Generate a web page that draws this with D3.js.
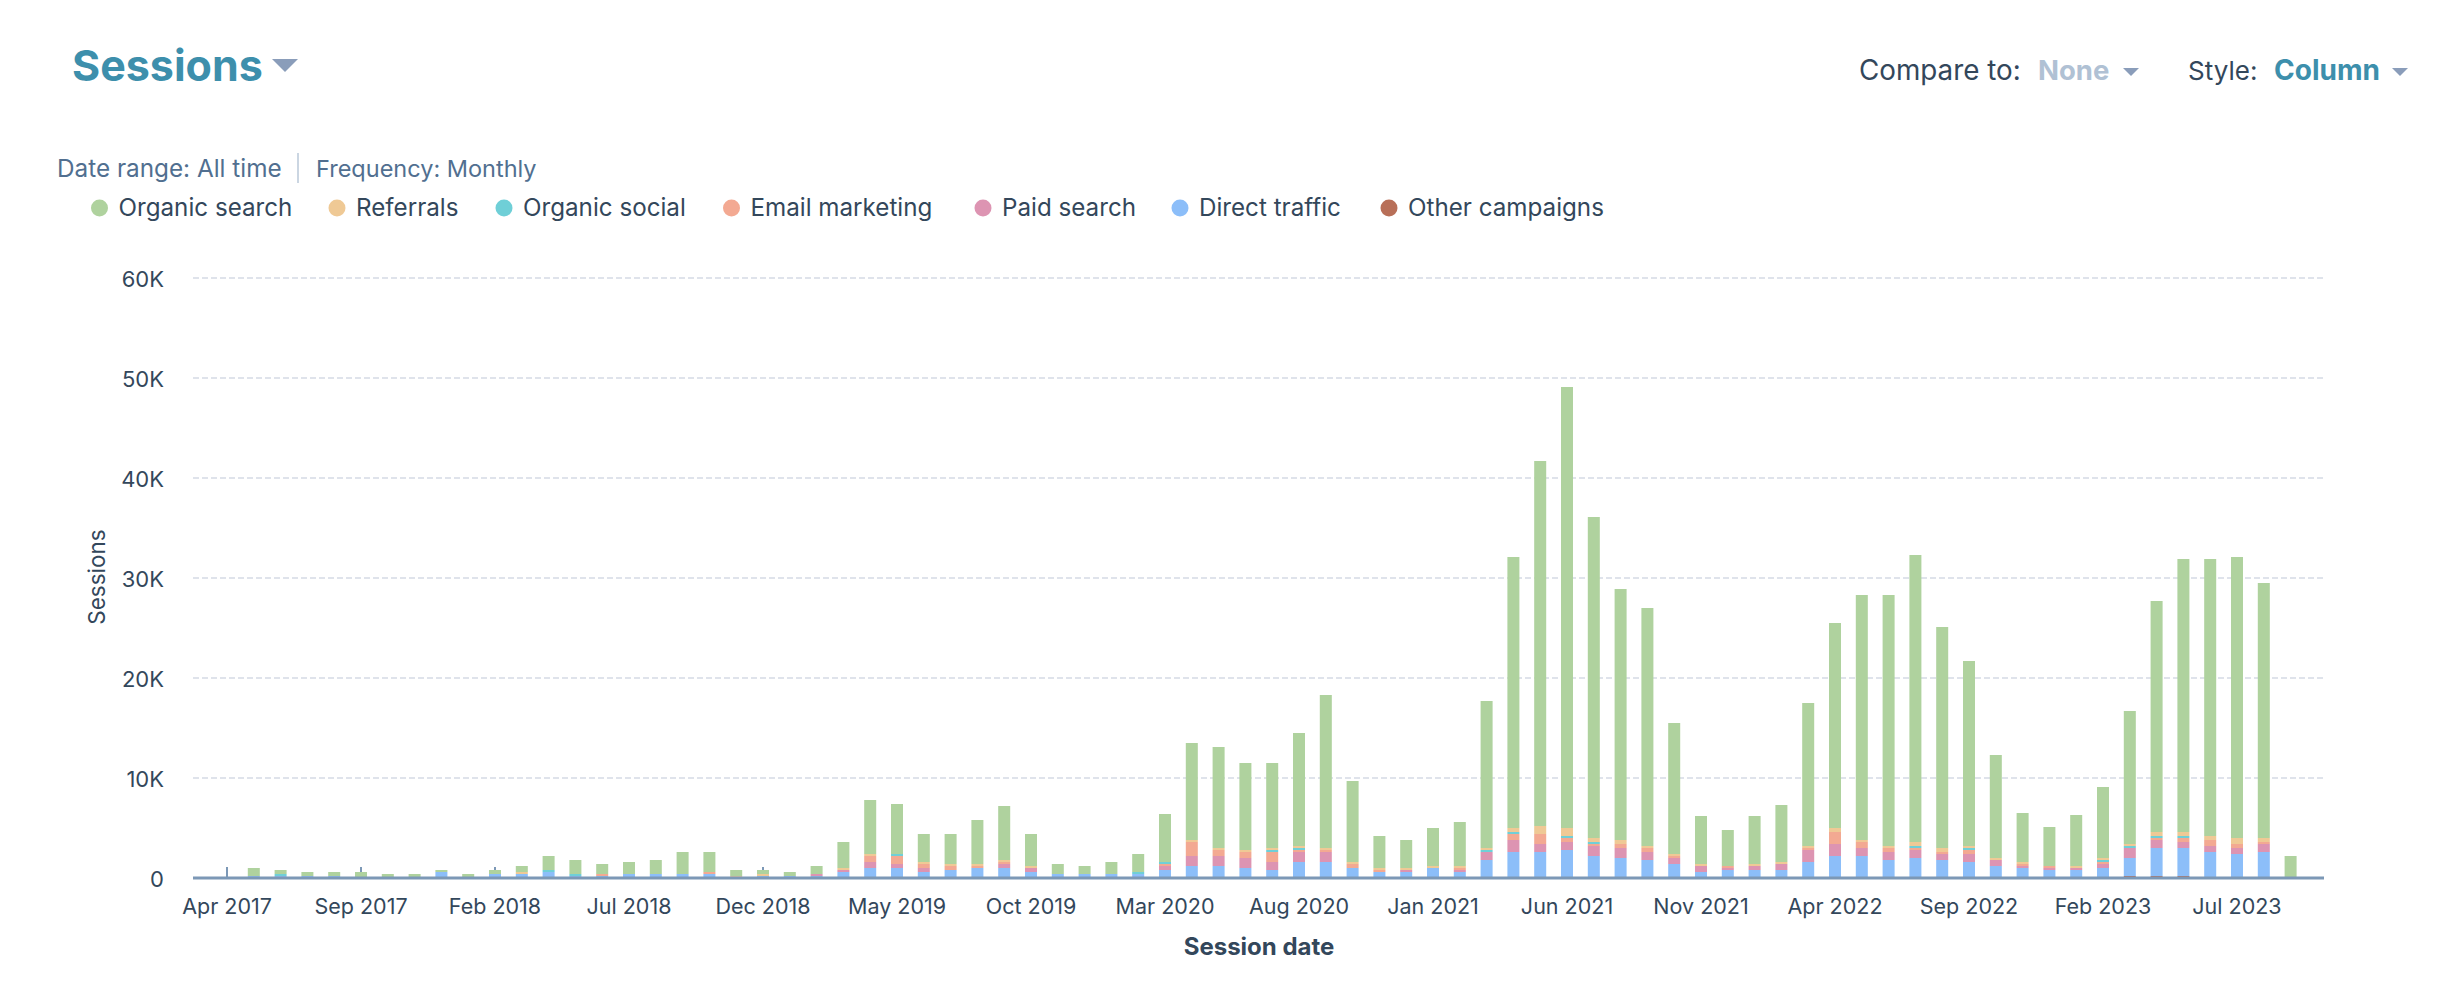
<!DOCTYPE html>
<html><head><meta charset="utf-8">
<script src="https://cdn.jsdelivr.net/npm/d3@7"></script>
<style>html,body{margin:0;padding:0;background:#fff}svg{display:block}text{font-family:Inter,"Noto Sans",sans-serif}</style>
</head><body><svg id="c" width="2460" height="996"></svg>
<script>
const months=[
"Apr 2017","May 2017","Jun 2017","Jul 2017","Aug 2017","Sep 2017","Oct 2017","Nov 2017","Dec 2017",
"Jan 2018","Feb 2018","Mar 2018","Apr 2018","May 2018","Jun 2018","Jul 2018","Aug 2018","Sep 2018","Oct 2018","Nov 2018","Dec 2018",
"Jan 2019","Feb 2019","Mar 2019","Apr 2019","May 2019","Jun 2019","Jul 2019","Aug 2019","Sep 2019","Oct 2019","Nov 2019","Dec 2019",
"Jan 2020","Feb 2020","Mar 2020","Apr 2020","May 2020","Jun 2020","Jul 2020","Aug 2020","Sep 2020","Oct 2020","Nov 2020","Dec 2020",
"Jan 2021","Feb 2021","Mar 2021","Apr 2021","May 2021","Jun 2021","Jul 2021","Aug 2021","Sep 2021","Oct 2021","Nov 2021","Dec 2021",
"Jan 2022","Feb 2022","Mar 2022","Apr 2022","May 2022","Jun 2022","Jul 2022","Aug 2022","Sep 2022","Oct 2022","Nov 2022","Dec 2022",
"Jan 2023","Feb 2023","Mar 2023","Apr 2023","May 2023","Jun 2023","Jul 2023","Aug 2023","Sep 2023"];
const tickMonths=["Apr 2017","Sep 2017","Feb 2018","Jul 2018","Dec 2018","May 2019","Oct 2019","Mar 2020","Aug 2020","Jan 2021","Jun 2021","Nov 2021","Apr 2022","Sep 2022","Feb 2023","Jul 2023"];
const yTicks=[0,10000,20000,30000,40000,50000,60000];
const other=[0,0,0,0,0,0,0,0,0,0, 0,0,0,0,0,0,0,0,0,0, 0,0,0,0,0,0,0,0,0,0, 0,0,0,0,0,0,0,0,0,0,
0,0,0,0,0,0,0,0,0,0, 0,0,0,0,0,0,0,0,0,0, 0,0,0,0,0,0,0,0,0,0, 0,200,200,200,0,0,0,0];
const direct=[0,200,200,200,200,0,0,0,600,0, 400,400,600,200,200,400,400,400,400,0,
200,200,200,600,1000,1000,600,800,1000,1000, 600,400,400,400,400,800,1200,1200,1000,800,
1600,1600,1000,600,600,1000,600,1800,2600,2600, 2800,2200,2000,1800,1400,600,800,800,800,1600,
2200,2200,1800,2000,1800,1600,1200,1000,800,800, 1000,1800,2800,2800,2600,2400,2600,0];
const paid=[0,0,0,0,0,0,0,0,0,0, 0,0,0,0,0,0,0,0,0,0,
0,0,200,200,600,400,400,0,0,400, 400,0,0,0,0,400,1000,1000,1000,800,
1000,1000,0,0,200,0,200,800,1200,800, 800,1000,1000,800,600,600,200,400,600,1200,
1200,800,800,800,600,800,600,200,200,200, 400,1000,800,600,600,600,800,0];
const email=[0,0,0,0,0,0,0,0,0,0, 0,0,0,0,200,0,0,0,200,0,
0,0,0,0,600,800,400,400,200,200, 0,0,0,0,0,200,1400,600,600,1000,
200,200,400,200,0,0,200,0,600,1000, 400,200,400,400,200,0,200,0,0,200,
1200,600,400,200,200,400,0,200,200,0, 200,0,200,400,600,400,200,0];
const social=[0,0,200,0,0,0,0,0,0,0, 0,0,200,200,0,0,0,0,0,0,
0,0,0,0,0,200,0,0,0,0, 0,0,0,0,200,200,0,0,0,200,
200,0,0,0,0,0,0,200,200,0, 200,200,0,0,0,0,0,0,0,0,
0,0,0,200,0,200,0,0,0,0, 200,200,200,200,0,0,0,0];
const referrals=[0,0,0,0,0,0,0,0,0,0, 0,200,0,0,0,0,0,0,0,200,
200,0,0,200,200,0,200,200,200,200, 200,0,0,0,0,0,200,200,200,200,
200,200,200,200,200,200,200,200,400,800, 800,400,400,200,200,200,0,200,200,200,
400,200,200,400,400,200,200,200,0,200, 200,200,400,400,400,600,400,0];
const organic=[0,800,400,400,400,600,400,400,200,400, 400,600,1400,1400,1000,1200,1400,2200,2000,600,
400,400,800,2600,5400,5000,2800,3000,4400,5400, 3200,1000,800,1200,1800,4800,9700,10100,8700,8500,
11300,15300,8100,3200,2800,3800,4400,14700,27100,36500, 44100,32100,25100,23800,13100,4800,3600,4800,5700,14300,
20500,24500,25100,28700,22100,18500,10300,4900,3900,5100, 7100,13300,23100,27300,27700,28100,25500,2200];
const legendNames=["Organic search","Referrals","Organic social","Email marketing","Paid search","Direct traffic","Other campaigns"];
const stackKeys=["other","direct","paid","email","social","referrals","organic"];
const seriesByKey={other,direct,paid,email,social,referrals,organic};
const colors={organic:"#afd29e",referrals:"#efc995",social:"#6fcfd7",email:"#f3a992",paid:"#dd94b2",direct:"#8cbef9",other:"#b86f58"};
const legendColors=[colors.organic,colors.referrals,colors.social,colors.email,colors.paid,colors.direct,colors.other];
const legendDotX=[99.5,337,504,731.5,983,1180,1389];

const svg=d3.select("#c");
const FONT_S=21.5, INK="#33475b", TEAL="#3d8fac", CARET="#8a9dba";
const x=d3.scaleBand().domain(months).range([213.6,2304]).paddingInner(0.552).paddingOuter(0.276);
const y=d3.scaleLinear().domain([0,60000]).range([878,278]);
const rows=months.map((m,i)=>{const r={month:m};stackKeys.forEach(k=>r[k]=seriesByKey[k][i]);return r;});
const stacked=d3.stack().keys(stackKeys)(rows);

// grid
svg.append("g").selectAll("line").data(yTicks.filter(d=>d>0)).join("line")
 .attr("x1",193).attr("x2",2323).attr("y1",d=>y(d)).attr("y2",d=>y(d))
 .attr("stroke","#dfe3eb").attr("stroke-width",2).attr("stroke-dasharray","6,3");

// x axis (ticks point up, under the bars)
const xAxis=svg.append("g").attr("transform","translate(0,878)")
 .call(d3.axisBottom(x).tickValues(tickMonths).tickSizeInner(-11).tickSizeOuter(0).tickPadding(21));
xAxis.select(".domain").remove();
xAxis.selectAll("line").attr("stroke","#7c98b6").attr("stroke-width",2);
xAxis.selectAll("text").attr("fill",INK).attr("font-size",FONT_S).attr("font-family","Inter");

// bars
svg.append("g").selectAll("g").data(stacked).join("g").attr("fill",d=>colors[d.key])
 .selectAll("rect").data(d=>d.filter(s=>s[1]>s[0])).join("rect")
 .attr("x",d=>x(d.data.month)).attr("width",x.bandwidth())
 .attr("y",d=>y(d[1])).attr("height",d=>y(d[0])-y(d[1]));

// baseline
svg.append("line").attr("x1",193).attr("x2",2324).attr("y1",878).attr("y2",878).attr("stroke","#7c98b6").attr("stroke-width",3);

// y axis
const yAxis=svg.append("g").attr("transform","translate(164,1)")
 .call(d3.axisLeft(y).tickValues(yTicks).tickSize(0).tickPadding(0).tickFormat(d=>d===0?"0":(d/1000)+"K"));
yAxis.select(".domain").remove();
yAxis.selectAll("text").attr("fill",INK).attr("font-size",22).attr("font-family","Inter");

// axis titles
svg.append("text").attr("transform","translate(105,577) rotate(-90)").attr("text-anchor","middle")
 .attr("fill",INK).attr("font-size",22.5).text("Sessions");
svg.append("text").attr("x",1259).attr("y",955).attr("text-anchor","middle").attr("fill",INK)
 .attr("font-size",24).attr("font-weight",700).text("Session date");

// header
const caret=(cx,top,w,h)=>svg.append("path").attr("fill",CARET)
 .attr("d",d3.line()([[cx-w/2,top],[cx+w/2,top],[cx,top+h]])+"Z");
svg.append("text").attr("x",72).attr("y",81).attr("fill",TEAL).attr("font-size",43).attr("font-weight",650).text("Sessions");
caret(285,59,26,13);
svg.append("text").attr("x",1859).attr("y",80).attr("fill",INK).attr("font-size",27.8).text("Compare to:");
svg.append("text").attr("x",2038).attr("y",80).attr("fill","#b0c1d4").attr("font-size",27.5).attr("font-weight",650).text("None");
caret(2131,68,16,8);
svg.append("text").attr("x",2188).attr("y",80).attr("fill",INK).attr("font-size",26).text("Style:");
svg.append("text").attr("x",2274).attr("y",80).attr("fill",TEAL).attr("font-size",28).attr("font-weight",650).text("Column");
caret(2400,68,16,8);

// filter line
svg.append("text").attr("x",57).attr("y",177).attr("fill","#516f90").attr("font-size",24.3).text("Date range: All time");
svg.append("line").attr("x1",298).attr("x2",298).attr("y1",153).attr("y2",183).attr("stroke","#cbd6e2").attr("stroke-width",2);
svg.append("text").attr("x",316).attr("y",177).attr("fill","#516f90").attr("font-size",23.5).text("Frequency: Monthly");

// legend
const lg=svg.append("g").selectAll("g").data(legendNames).join("g")
 .attr("transform",(d,i)=>`translate(${legendDotX[i]},208)`);
lg.append("circle").attr("r",8.5).attr("fill",(d,i)=>legendColors[i]);
lg.append("text").attr("x",19).attr("y",7.5).attr("fill",INK).attr("font-size",24.2).text(d=>d);
</script></body></html>
